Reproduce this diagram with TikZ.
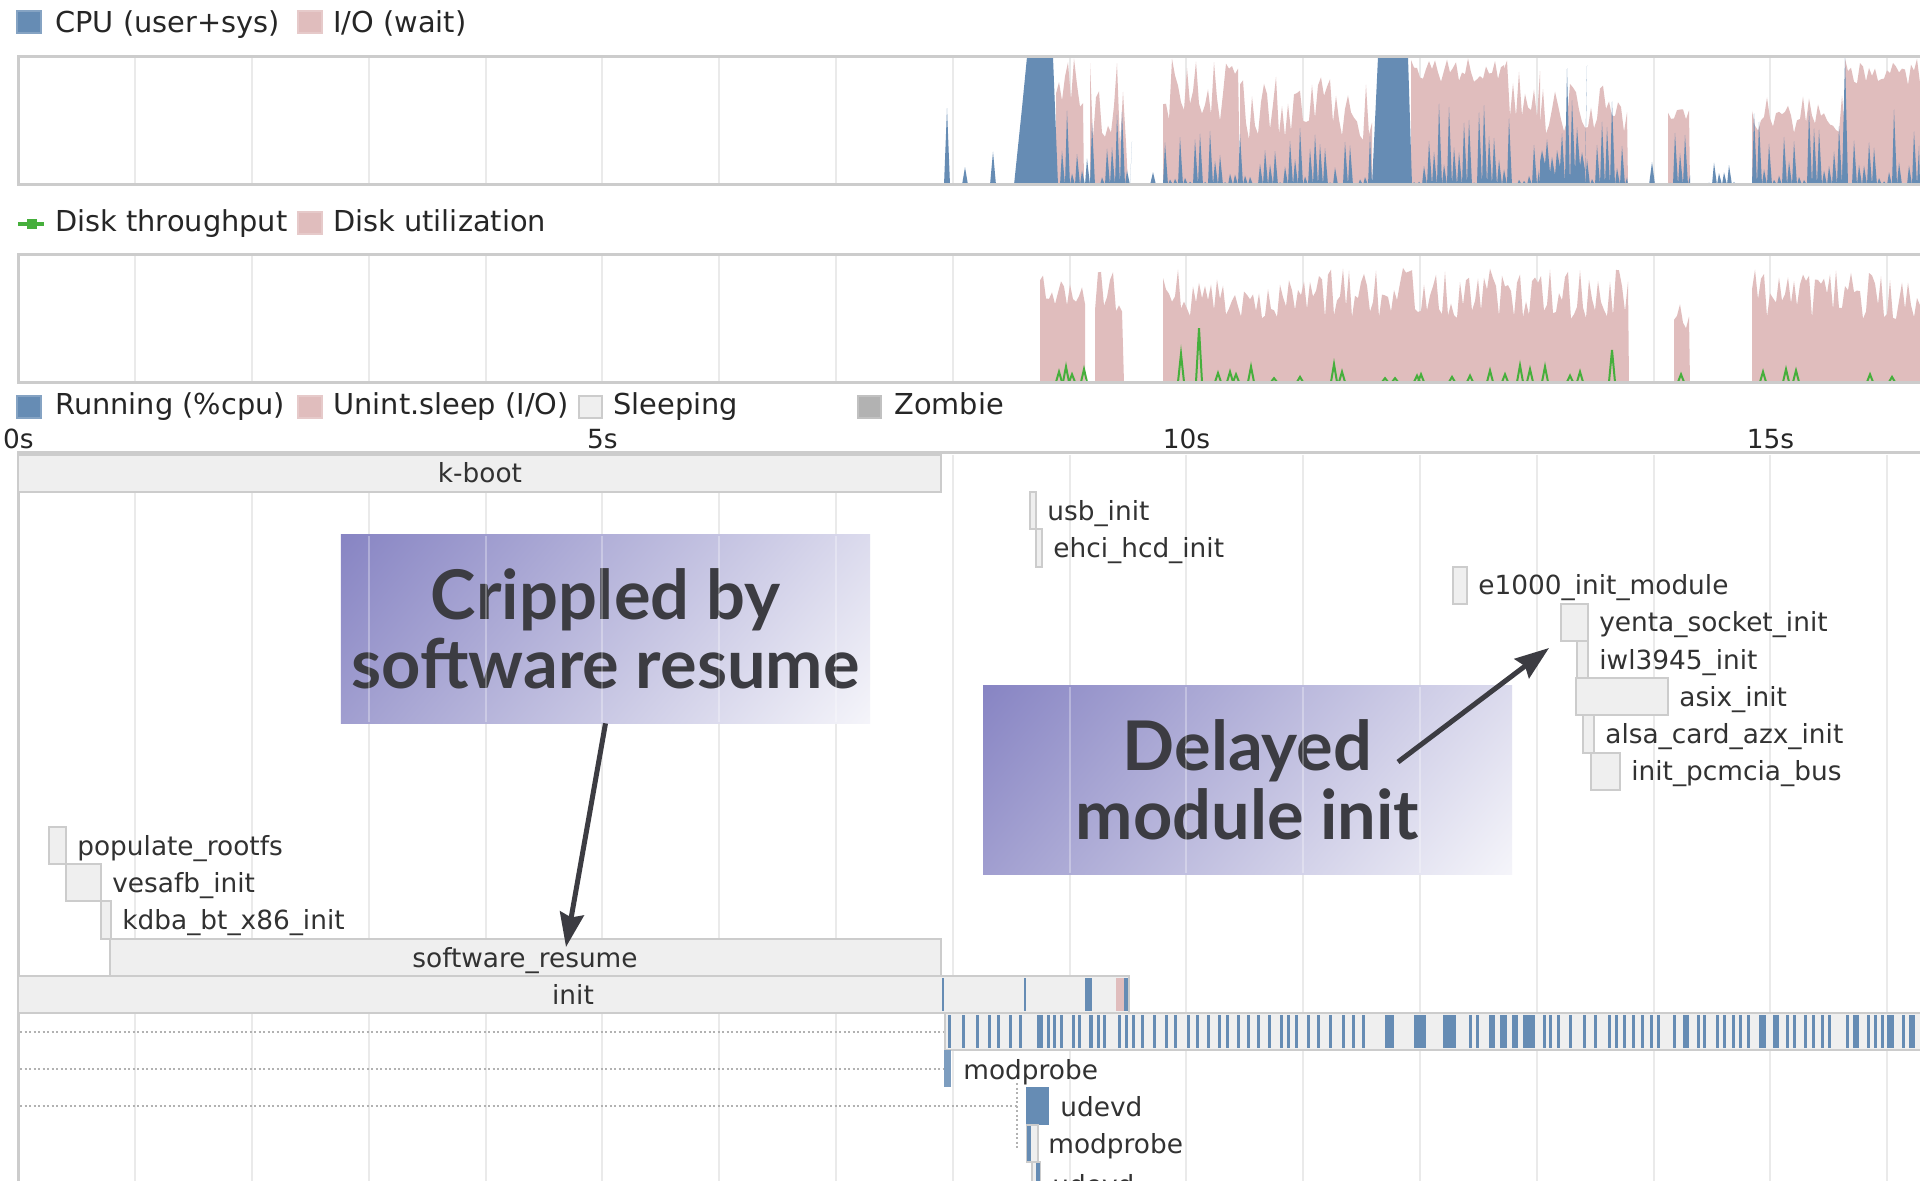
\documentclass[tikz,border=0pt]{standalone}
\usepackage{fontspec}
\setmainfont{DejaVu Sans}
\newfontfamily\notefont{Lato}
\usetikzlibrary{arrows.meta}

\definecolor{cpublue}{RGB}{102,140,180}
\definecolor{iopink}{RGB}{224,189,189}
\definecolor{diskgreen}{RGB}{70,175,60}
\definecolor{sleepgrey}{RGB}{239,239,239}
\definecolor{zombiegrey}{RGB}{178,178,178}
\definecolor{framegrey}{RGB}{204,204,204}
\definecolor{tickgrey}{RGB}{234,234,234}
\definecolor{proctext}{RGB}{50,50,50}
\definecolor{notepurple}{RGB}{131,128,193}
\definecolor{notewhite}{RGB}{249,249,252}
\definecolor{noteink}{RGB}{60,60,66}

\pgfdeclarehorizontalshading{notefade}{100bp}{color(0bp)=(notepurple);
  color(12bp)=(notepurple); color(88bp)=(notewhite); color(100bp)=(notewhite)}

\tikzset{
  legendtext/.style={anchor=base west, inner sep=0pt, text=black!85,
    font=\fontsize{16.4}{19}\selectfont},
  axislabel/.style={anchor=base, inner sep=0pt, text=black!85,
    font=\fontsize{15}{18}\selectfont},
  legendsq/.style={fill=#1, draw=#1!80!white, line width=0.3mm},
  chartframe/.style={draw=framegrey, line width=0.6mm},
  gridtick/.style={draw=tickgrey, line width=0.4mm},
  procbar/.style={draw=framegrey, fill=sleepgrey, line width=0.4mm},
  proclabel/.style={anchor=base west, inner sep=0pt, text=proctext,
    font=\fontsize{15}{18}\selectfont},
  barcaption/.style={proclabel, anchor=base},
  deptrail/.style={draw=black!30, line width=0.4mm, dash pattern=on 0.4mm off 0.5mm},
  notebox/.style={shade, shading=notefade, shading angle=-40, inner sep=0pt,
    minimum width=105.8mm, minimum height=37.6mm, align=center, text=noteink,
    font=\notefont\bfseries\fontsize{39}{39.6}\selectfont},
  seethrough/.style={draw=white, line width=0.4mm, opacity=0.3},
  notearrow/.style={draw=noteink, line width=1mm,
    -{Stealth[length=6.8mm, width=4.8mm, inset=0.8mm]}},
}

\begin{document}
\begin{tikzpicture}[x=0.2mm, y=-0.2mm]
\useasboundingbox (0,0) rectangle (1920,1181);
\fill[white] (0,0) rectangle (1920,1181);
\pgfmathsetseed{2718}

% legends
\draw[legendsq=cpublue] (17,11) rectangle (41,33);
\node[legendtext] (lgcpu) at (55,33) {CPU (user+sys)};
\draw[legendsq=iopink] (298,11) rectangle (322,33);
\node[legendtext] (lgio) at (333,33) {I/O (wait)};

\draw[diskgreen, line width=0.8mm] (18,224) -- (44,224);
\fill[diskgreen] (27,219) rectangle (37,229);
\node[legendtext] (lgtput) at (55,232) {Disk throughput};
\draw[legendsq=iopink] (298,212) rectangle (322,234);
\node[legendtext] (lgutil) at (333,232) {Disk utilization};

\draw[legendsq=cpublue] (17,396) rectangle (41,418);
\node[legendtext] (lgrun) at (55,415) {Running (\%cpu)};
\draw[legendsq=iopink] (298,396) rectangle (322,418);
\node[legendtext] (lgunint) at (333,415) {Unint.sleep (I/O)};
\draw[legendsq=sleepgrey, draw=framegrey] (579,396) rectangle (602,418);
\node[legendtext] (lgsleep) at (613,415) {Sleeping};
\draw[legendsq=zombiegrey] (858,396) rectangle (881,418);
\node[legendtext] (lgzombie) at (894,415) {Zombie};

% time axis
\foreach \t/\nm in {0/t0, 5/t5, 10/t10, 15/t15}
  \node[axislabel] (\nm) at ({18.4+116.8*\t},449) {\t s};

% one second grid
\foreach \k in {1,...,16} {
  \draw[gridtick] ({18.4+116.8*\k},57) -- ++(0,128);
  \draw[gridtick] ({18.4+116.8*\k},255) -- ++(0,128);
  \draw[gridtick] ({18.4+116.8*\k},455) -- ++(0,726);
}

% cpu chart: io wait under cpu
\foreach \xa/\xb/\lo/\hi in {1056/1084/0.6/1, 1090/1128/0.3/1, 1163/1240/0.5/1,
    1240/1372/0.35/0.85, 1411/1504/0.8/1, 1504/1540/0.5/1, 1540/1628/0.4/0.8,
    1668/1690/0.45/0.6, 1752/1845/0.4/0.7, 1845/1920/0.75/1} {
  \pgfmathtruncatemacro{\n}{(\xb-\xa)/3}
  \fill[iopink] (\xa,185) \foreach \i in {0,...,\n} {
    -- ({\xa+3*\i},{185-128*(\lo+(\hi-\lo)*rnd)}) } -- (\xb,185) -- cycle;
}
\foreach \xa/\xb/\lo/\hi in {1060/1130/0/0.7, 1163/1372/0/0.45, 1412/1540/0/0.75,
    1540/1585/0.2/1, 1585/1628/0/0.7, 1668/1690/0/0.65, 1697/1736/0/0.2,
    1752/1920/0/0.6} {
  \pgfmathtruncatemacro{\n}{(\xb-\xa)/5}
  \fill[cpublue] (\xa,185) \foreach \i in {0,...,\n} {
    -- ({\xa+5*\i},{185-128*\lo*rnd}) -- ({\xa+5*\i+2},{185-128*(\lo+(\hi-\lo)*rnd^1.5)}) }
    -- (\xb,185) -- cycle;
}
\fill[cpublue] (1014,185) -- (1022,108) -- (1027,57) -- (1053,57) -- (1058,185) -- cycle;
\fill[cpublue] (1372,185) -- (1378,57) -- (1408,57) -- (1412,185) -- cycle;
\foreach \x/\h in {947/0.6, 965/0.14, 993/0.26, 1153/0.1, 1652/0.18, 1845/1}
  \fill[cpublue] ({\x-3},185) -- (\x,{185-128*\h}) -- ({\x+3},185) -- cycle;
\draw[chartframe] (18,57) rectangle (1930,185);

% disk chart
\foreach \xa/\xb/\lo/\hi in {1040/1085/0.55/0.88, 1095/1124/0.5/0.88,
    1163/1629/0.5/0.9, 1674/1690/0.4/0.7, 1752/1920/0.5/0.9} {
  \pgfmathtruncatemacro{\n}{(\xb-\xa)/3}
  \fill[iopink] (\xa,383) \foreach \i in {0,...,\n} {
    -- ({\xa+3*\i},{383-128*(\lo+(\hi-\lo)*rnd)}) } -- (\xb,383) -- cycle;
}
\draw[diskgreen, line width=0.4mm] (947,382) -- (1930,382);
\foreach \x/\h in {1059/.08, 1066/.12, 1072/.06, 1084/.1, 1181/.22, 1199/.42,
    1218/.07, 1230/.08, 1236/.06, 1251/.12, 1274/.03, 1300/.04, 1334/.14,
    1342/.08, 1385/.03, 1395/.03, 1417/.05, 1421/.06, 1452/.04, 1470/.05,
    1490/.09, 1505/.06, 1520/.13, 1530/.1, 1545/.12, 1570/.05, 1580/.08,
    1612/.25, 1681/.06, 1763/.08, 1786/.1, 1796/.09, 1870/.06, 1892/.04}
  \draw[diskgreen, line width=0.4mm] ({\x-3},382) -- (\x,{382-128*\h}) -- ({\x+3},382);
\draw[chartframe] (18,255) rectangle (1930,383);

% process timeline
\draw[chartframe] (18,1181) -- (18,453) -- (1930,453);

\draw[procbar] (18,455) rectangle (941,492.2);
\node[barcaption] (kboot) at (480,483) {k-boot};

% short sleeping processes: row/start/end/name/label
\foreach \r/\xa/\xb/\nm/\txt in {
    1/1030/1036/usb/usb\_init,
    2/1036/1042/ehci/ehci\_hcd\_init,
    3/1453/1467/eth/e1000\_init\_module,
    4/1561/1588/yenta/yenta\_socket\_init,
    5/1577/1588/iwl/iwl3945\_init,
    6/1576/1668/asix/asix\_init,
    7/1583/1594/alsa/alsa\_card\_azx\_init,
    8/1591/1620/pcmcia/init\_pcmcia\_bus,
    10/49/66/rootfs/populate\_rootfs,
    11/66/101/vesafb/vesafb\_init,
    12/101/111/kdba/kdba\_bt\_x86\_init} {
  \draw[procbar] (\xa,{455+37.2*\r}) rectangle (\xb,{455+37.2*(\r+1)});
  \node[proclabel] (\nm) at ({\xb+11},{483+37.2*\r}) {\txt};
}

\draw[procbar] (110,938.6) rectangle (941,975.8);
\node[barcaption] (swresume) at (525,967.5) {software\_resume};

\draw[procbar] (18,975.8) rectangle (1129,1013);
\node[barcaption] (init) at (573,1004.7) {init};
\foreach \x/\w in {942/2, 1024/2, 1085/7, 1124/4}
  \fill[cpublue] (\x,977.5) rectangle ++(\w,33.8);
\fill[iopink] (1116,977.5) rectangle ++(8,33.8);

% busy row of cpu slices
\draw[procbar] (945,1013) rectangle (1930,1050);
\foreach \x in {948,962,976,988,997,1009,1019,1047,1053,1060,1072,1078,1097,1103,
    1118,1125,1132,1141,1153,1165,1174,1187,1196,1207,1218,1226,1237,1247,1257,
    1268,1280,1287,1295,1307,1317,1329,1342,1352,1362,1469,1476,1543,1549,1557,
    1569,1583,1594,1608,1615,1623,1632,1641,1650,1657,1673,1697,1703,1716,1723,
    1732,1739,1747,1786,1793,1804,1812,1821,1828,1846,1867,1874,1881,1902}
  \fill[cpublue] (\x,1015) rectangle ++(2.5,33);
\foreach \x/\w in {1037/6, 1089/4, 1385/9, 1414/12, 1443/13, 1489/6, 1500/7,
    1512/6, 1523/12, 1683/6, 1759/7, 1773/6, 1853/6, 1887/7, 1909/6}
  \fill[cpublue] (\x,1015) rectangle ++(\w,33);

% dependency trails
\draw[deptrail] (20,1031.6) -- (944,1031.6);
\draw[deptrail] (20,1069) -- (944,1069);
\draw[deptrail] (20,1106.2) -- (1017,1106.2);
\draw[deptrail] (1017,1083) -- (1017,1150);

\fill[cpublue!85!white] (944,1050.2) rectangle (951,1087.4);
\node[proclabel] (modprobe) at (963,1079) {modprobe};
\fill[cpublue] (1026,1087.4) rectangle (1049,1124.6);
\node[proclabel] (udevd) at (1060,1116.2) {udevd};
\draw[procbar] (1027,1124.6) rectangle (1038,1161.8);
\fill[cpublue] (1027,1125.6) rectangle ++(4,35);
\node[proclabel] (modprobeb) at (1048,1153.4) {modprobe};
\draw[procbar] (1032,1161.8) rectangle (1040,1199);
\fill[cpublue] (1036,1162.8) rectangle ++(4,35);
\node[proclabel] (udevdb) at (1052,1194) {udevd};

% annotations
\node[notebox] (crippled) at (605.5,629) {Crippled by\\software resume};
\node[notebox] (delayed) at (1247.5,780) {Delayed\\module init};
\foreach \k in {3,...,7}
  \draw[seethrough] ({18.4+116.8*\k},536) -- ++(0,186);
\foreach \k in {9,...,12}
  \draw[seethrough] ({18.4+116.8*\k},687) -- ++(0,186);

\coordinate (resumetip) at (566,947);
\coordinate (delaystart) at (1398,762);
\coordinate (moduletip) at (1549,648);
\draw[notearrow] (crippled.south) -- (resumetip);
\draw[notearrow] (delaystart) -- (moduletip);
\end{tikzpicture}
\end{document}
